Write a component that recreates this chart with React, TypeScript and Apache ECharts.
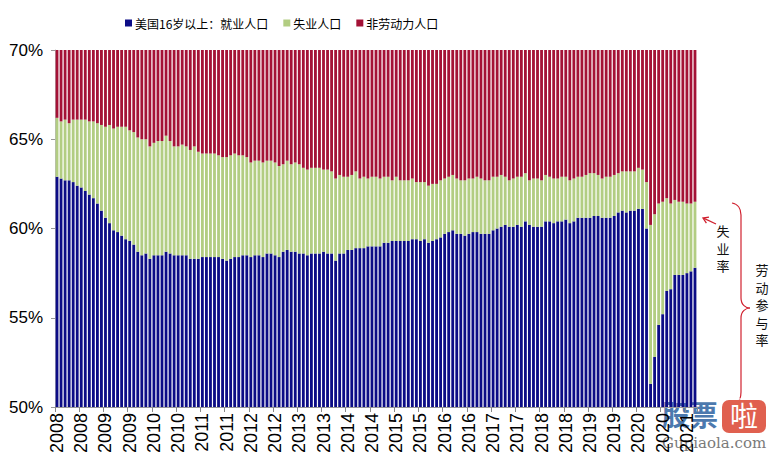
import React, { useEffect, useRef } from "react";
import * as echarts from "echarts";

const years = ["2008", "2009", "2010", "2011", "2012", "2013", "2014", "2015", "2016", "2017", "2018", "2019", "2020", "2021"];
const monthNames = ["01", "02", "03", "04", "05", "06", "07", "08", "09", "10", "11", "12"];

// 美国16岁以上：就业人口占比（%）
const employmentRatio = [
  62.9, 62.8, 62.7, 62.7, 62.6, 62.4, 62.3, 62.1, 61.9, 61.7, 61.4, 61.0,
  60.6, 60.3, 59.9, 59.8, 59.6, 59.4, 59.3, 59.1, 58.7, 58.5, 58.6, 58.3,
  58.5, 58.5, 58.5, 58.7, 58.6, 58.5, 58.5, 58.5, 58.5, 58.3, 58.3, 58.3,
  58.4, 58.4, 58.4, 58.4, 58.4, 58.3, 58.2, 58.3, 58.4, 58.4, 58.5, 58.5,
  58.4, 58.5, 58.5, 58.4, 58.6, 58.6, 58.5, 58.4, 58.7, 58.8, 58.7, 58.7,
  58.6, 58.6, 58.5, 58.6, 58.6, 58.6, 58.7, 58.6, 58.6, 58.2, 58.6, 58.6,
  58.8, 58.8, 58.9, 58.9, 58.9, 59.0, 59.0, 59.0, 59.0, 59.2, 59.2, 59.3,
  59.3, 59.3, 59.3, 59.3, 59.4, 59.4, 59.3, 59.4, 59.2, 59.3, 59.4, 59.5,
  59.7, 59.8, 59.9, 59.7, 59.7, 59.6, 59.7, 59.8, 59.8, 59.7, 59.7, 59.7,
  59.9, 60.0, 60.1, 60.2, 60.1, 60.1, 60.2, 60.1, 60.4, 60.2, 60.1, 60.1,
  60.1, 60.4, 60.4, 60.3, 60.4, 60.4, 60.5, 60.3, 60.4, 60.6, 60.6, 60.6,
  60.6, 60.7, 60.7, 60.6, 60.6, 60.6, 60.7, 60.9, 61.0, 60.9, 61.0, 61.0,
  61.1, 61.1, 60.0, 51.3, 52.8, 54.6, 55.2, 56.5, 56.6, 57.4, 57.4, 57.4,
  57.5, 57.6, 57.8,
];

// 劳动参与率（%）= 就业人口 + 失业人口
const participationRate = [
  66.2, 66.0, 66.1, 65.9, 66.1, 66.1, 66.1, 66.1, 66.0, 66.0, 65.9, 65.8,
  65.7, 65.8, 65.6, 65.7, 65.7, 65.7, 65.5, 65.4, 65.1, 65.0, 65.0, 64.6,
  64.8, 64.9, 64.9, 65.2, 64.9, 64.6, 64.6, 64.7, 64.6, 64.4, 64.6, 64.3,
  64.2, 64.2, 64.2, 64.2, 64.1, 64.0, 64.0, 64.1, 64.2, 64.1, 64.1, 64.0,
  63.7, 63.8, 63.8, 63.7, 63.8, 63.8, 63.7, 63.5, 63.6, 63.8, 63.6, 63.7,
  63.6, 63.4, 63.3, 63.4, 63.4, 63.4, 63.3, 63.3, 63.2, 62.8, 63.0, 62.9,
  62.9, 63.0, 63.2, 62.8, 62.9, 62.8, 62.9, 62.9, 62.8, 62.9, 62.9, 62.7,
  62.9, 62.7, 62.7, 62.7, 62.8, 62.6, 62.6, 62.6, 62.4, 62.5, 62.5, 62.7,
  62.8, 62.9, 63.0, 62.8, 62.7, 62.7, 62.8, 62.8, 62.9, 62.8, 62.7, 62.7,
  62.9, 62.9, 63.0, 62.9, 62.7, 62.8, 62.9, 62.9, 63.1, 62.7, 62.8, 62.8,
  62.7, 63.0, 62.9, 62.8, 62.8, 62.9, 62.9, 62.7, 62.8, 62.9, 62.9, 63.0,
  63.1, 63.1, 63.0, 62.8, 62.9, 62.9, 63.0, 63.1, 63.2, 63.2, 63.2, 63.2,
  63.4, 63.3, 62.6, 60.2, 60.8, 61.4, 61.5, 61.7, 61.4, 61.6, 61.5, 61.5,
  61.4, 61.4, 61.5,
];

const seriesNames = ["美国16岁以上：就业人口", "失业人口", "非劳动力人口"];
const yTicks = [50, 55, 60, 65, 70];
const noteUnemployment = ["失", "业", "率"];
const noteParticipation = ["劳", "动", "参", "与", "率"];

const categories: string[] = [];
years.forEach((y) => monthNames.forEach((m) => categories.push(y + "-" + m)));
const cats = categories.slice(0, employmentRatio.length);

const unemployedShare = participationRate.map((p, i) => +(p - employmentRatio[i]).toFixed(1));
const notInLaborForce = participationRate.map((p) => +(100 - p).toFixed(1));

const FONT = "'Liberation Sans', Arial, 'Noto Sans CJK SC', sans-serif";
const CJK = "'Noto Sans CJK SC', sans-serif";
const RED = "#D0202E";

export default function App() {
  const ref = useRef<HTMLDivElement>(null);
  useEffect(() => {
    if (!ref.current) return;
    const chart = echarts.init(ref.current, null, { renderer: "svg" });
    const barCommon = {
      type: "bar" as const,
      stack: "total",
      barCategoryGap: "30%",
      clip: true,
    };
    const vChars = (chars: string[], x: number, y0: number) =>
      chars.map((c, i) => ({
        type: "text",
        x,
        y: y0 + i * 17.5,
        style: { text: c, fontSize: 13, fill: "#111", align: "center", verticalAlign: "top", fontFamily: CJK },
      }));
    chart.setOption({
      animation: false,
      backgroundColor: "#ffffff",
      textStyle: { fontFamily: FONT },
      legend: {
        left: 120,
        top: 12,
        itemWidth: 7,
        itemHeight: 7,
        itemGap: 15,
        icon: "rect",
        textStyle: { fontSize: 12, color: "#000", fontFamily: CJK, padding: [0, 0, 0, -2] },
        data: seriesNames,
      },
      grid: { left: 55, right: 81, top: 50, bottom: 51 },
      xAxis: {
        type: "category",
        data: cats,
        boundaryGap: true,
        axisLine: { show: true, lineStyle: { color: "#999" } },
        axisTick: { show: true, interval: 5, length: 5, lineStyle: { color: "#888" } },
        axisLabel: {
          interval: 5,
          rotate: 90,
          margin: 6,
          fontSize: 18,
          color: "#000",
          fontFamily: FONT,
          formatter: (v: string) => v.slice(0, 4),
        },
      },
      yAxis: {
        type: "value",
        min: yTicks[0],
        max: yTicks[yTicks.length - 1],
        interval: 5,
        axisLine: { show: true, lineStyle: { color: "#bbb" } },
        axisTick: { show: true, length: 4, lineStyle: { color: "#999" } },
        splitLine: { show: false },
        axisLabel: { fontSize: 17, color: "#000", margin: 12, formatter: "{value}%", fontFamily: FONT },
      },
      series: [
        { ...barCommon, name: seriesNames[0], data: employmentRatio, itemStyle: { color: "#0C0C86" } },
        { ...barCommon, name: seriesNames[1], data: unemployedShare, itemStyle: { color: "#B2CD82" } },
        { ...barCommon, name: seriesNames[2], data: notInLaborForce, itemStyle: { color: "#A41236" } },
      ],
      graphic: [
        // arrow to 失业率
        { type: "line", shape: { x1: 716, y1: 224, x2: 703.5, y2: 218.2 }, style: { stroke: RED, lineWidth: 1.3 } },
        {
          type: "polyline",
          shape: { points: [[706.4, 223.2], [703, 218], [709, 217.2]] },
          style: { stroke: RED, lineWidth: 1.3, fill: null },
        },
        ...vChars(noteUnemployment, 723, 224),
        // brace
        { type: "bezierCurve", shape: { x1: 732, y1: 203, x2: 741, y2: 215, cpx1: 738, cpy1: 204, cpx2: 741, cpy2: 209 }, style: { stroke: RED, lineWidth: 1.2, fill: null } },
        { type: "line", shape: { x1: 741, y1: 215, x2: 741, y2: 298 }, style: { stroke: RED, lineWidth: 1.2 } },
        { type: "bezierCurve", shape: { x1: 741, y1: 298, x2: 750, y2: 308, cpx1: 741, cpy1: 305, cpx2: 746, cpy2: 308 }, style: { stroke: RED, lineWidth: 1.2, fill: null } },
        { type: "bezierCurve", shape: { x1: 750, y1: 308, x2: 741, y2: 318, cpx1: 746, cpy1: 308, cpx2: 741, cpy2: 311 }, style: { stroke: RED, lineWidth: 1.2, fill: null } },
        { type: "line", shape: { x1: 741, y1: 318, x2: 741, y2: 392 }, style: { stroke: RED, lineWidth: 1.2 } },
        { type: "bezierCurve", shape: { x1: 741, y1: 392, x2: 736, y2: 404, cpx1: 741, cpy1: 398, cpx2: 739, cpy2: 402 }, style: { stroke: RED, lineWidth: 1.2, fill: null } },
        ...vChars(noteParticipation, 762, 263),
        // watermark
        { type: "rect", shape: { x: 658, y: 398, width: 120, height: 60 }, style: { fill: "rgba(255,255,255,0.55)" } },
        {
          type: "text",
          x: 662,
          y: 400,
          style: { text: "股票", fontSize: 28, fontWeight: "bold", fill: "#4C79AE", fontFamily: CJK },
        },
        { type: "rect", shape: { x: 722, y: 400, width: 44, height: 33, r: 7 }, style: { fill: "#E0604F" } },
        {
          type: "text",
          x: 744,
          y: 401,
          style: { text: "啦", fontSize: 28, fill: "#ffffff", align: "center", fontFamily: CJK },
        },
        {
          type: "text",
          x: 662,
          y: 435,
          style: { text: "Gupiaola.com", fontSize: 15, fill: "#7a7a7a", fontFamily: "'DejaVu Serif', serif" },
        },
      ],
    });
    return () => chart.dispose();
  }, []);
  return <div ref={ref} style={{ position: "fixed", left: 0, top: 0, width: 778, height: 458 }} />;
}
